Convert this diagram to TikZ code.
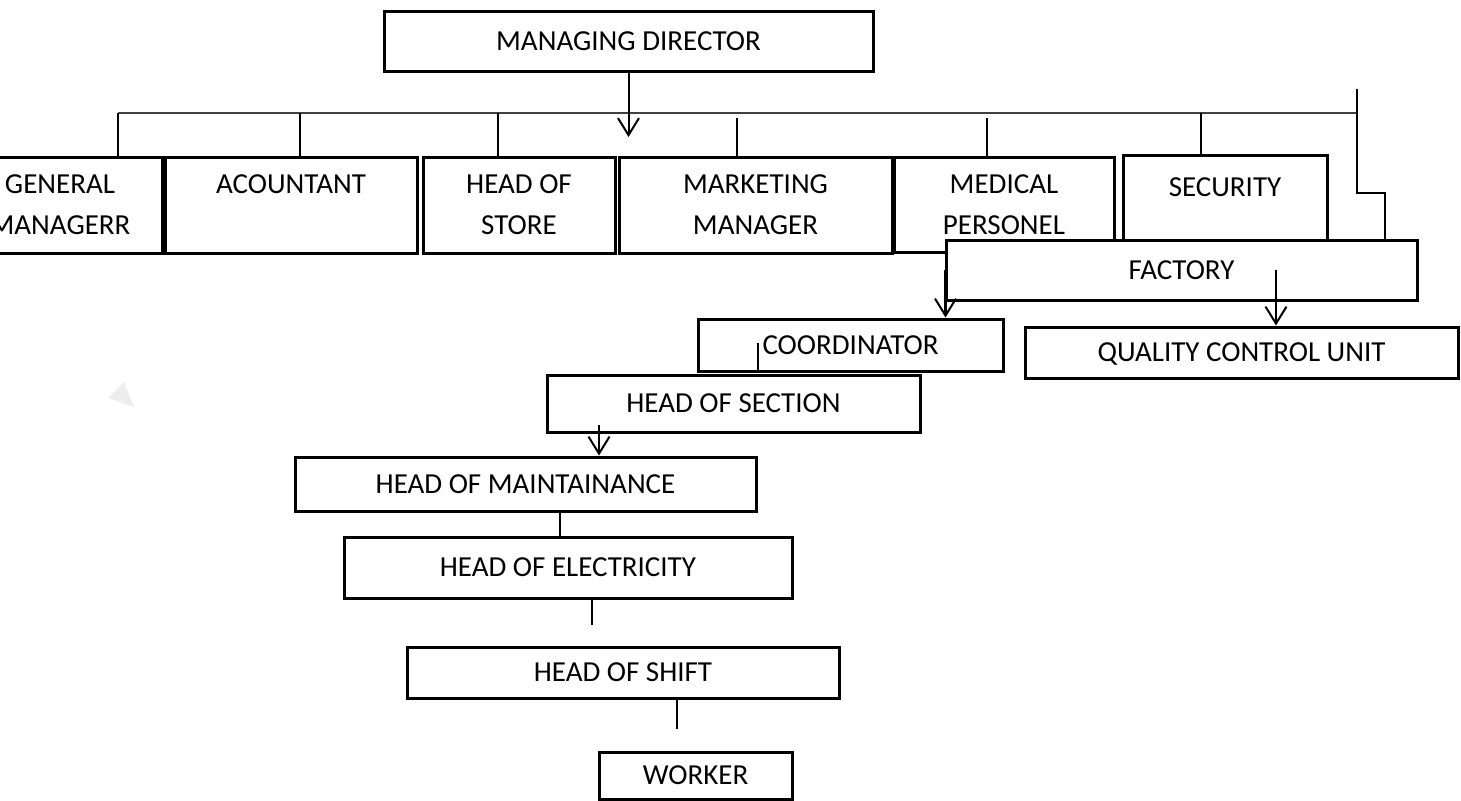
\documentclass[tikz,border=0pt]{standalone}
\usepackage{fontspec}
\setmainfont{Carlito}
\usetikzlibrary{arrows.meta}

\begin{document}
\begin{tikzpicture}[
    x=0.5pt, y=-0.5pt,
    box/.style={draw, line width=1.5pt, fill=white, align=center,
                font=\fontsize{14.5}{20.5}\selectfont, text depth=0pt,
                inner sep=0pt},
    link/.style={line width=1pt},
    bus/.style={line width=0.7pt, black!75},
    arrow/.style={-{Straight Barb[length=8.5pt, width=10.5pt, line width=1pt]},
                  line width=1pt},
]
\useasboundingbox (0,0) rectangle (1461,800);

% faint mark on the left
\fill[black!7] (108,398) -- (124,382) -- (134,407) -- cycle;

% top of the chart
\node[box, minimum width=244.5pt, minimum height=30pt] (md) at (628.5,41)
    {MANAGING DIRECTOR};

% first row
\node[box, minimum width=102pt, minimum height=48pt] (gm) at (60,205)
    {GENERAL\\MANAGERR};
\node[box, minimum width=126pt, minimum height=48pt] (acc) at (291,205)
    {ACOUNTANT\\~};
\node[box, minimum width=96pt, minimum height=48pt] (store) at (519,205)
    {HEAD OF\\STORE};
\node[box, minimum width=136.5pt, minimum height=48pt] (mkt) at (755.5,205)
    {MARKETING\\MANAGER};
\node[box, minimum width=110pt, minimum height=47.5pt] (med) at (1004,204.5)
    {MEDICAL\\PERSONEL};
\node[box, minimum width=102pt, minimum height=52.5pt] (sec) at (1225,207.5)
    {SECURITY\\~};

% factory branch
\node[box, minimum width=235.5pt, minimum height=30pt] (fac) at (1181.5,270)
    {FACTORY};
\node[box, minimum width=216.5pt, minimum height=25.5pt] (qcu) at (1241.5,352.5)
    {QUALITY CONTROL UNIT};
\node[box, minimum width=152.5pt, minimum height=26pt] (coord) at (850.5,345)
    {COORDINATOR};
\node[box, minimum width=186.5pt, minimum height=28.5pt] (hos) at (733.5,403.5)
    {HEAD OF SECTION};
\node[box, minimum width=230.5pt, minimum height=27pt] (hom) at (525.5,484)
    {HEAD OF MAINTAINANCE};
\node[box, minimum width=224pt, minimum height=30.5pt] (hoe) at (568,567.5)
    {HEAD OF ELECTRICITY};
\node[box, minimum width=216pt, minimum height=25.5pt] (hsh) at (623,672.5)
    {HEAD OF SHIFT};
\node[box, minimum width=96.5pt, minimum height=23.5pt] (wrk) at (695.5,775.5)
    {WORKER};

% bus line under the director
\coordinate (b1) at (118,113);
\coordinate (b2) at (300,113);
\coordinate (b3) at (498,113);
\coordinate (b4) at (737,118);
\coordinate (b5) at (987,118);
\coordinate (b6) at (1201,113);
\coordinate (busEnd) at (1357,113);
\draw[bus] (b1) -- (busEnd);

\coordinate (mdTip) at (628.5,137);
\draw[arrow] (md.south) -- (mdTip);

\draw[link] (b1) -- (b1 |- gm.north);
\draw[link] (b2) -- (b2 |- acc.north);
\draw[link] (b3) -- (b3 |- store.north);
\draw[link] (b4) -- (b4 |- mkt.north);
\draw[link] (b5) -- (b5 |- med.north);
\draw[link] (b6) -- (b6 |- sec.north);

% feed into the factory
\coordinate (fTop) at (1357,89);
\coordinate (fBend) at (1357,193);
\draw[link] (fTop) -- (fBend) -| ([xshift=-17pt]fac.north east);

\coordinate (facIn) at (1276,270);
\draw[arrow] (facIn) -- (facIn |- qcu.north);
\draw[arrow, line width=1.8pt] ([xshift=0.5pt]fac.west) -- ([xshift=0.5pt]fac.west |- coord.north);

% down the chain
\coordinate (crdMark) at (758,343);
\draw[link] (crdMark) -- (crdMark |- coord.south);
\coordinate (hosIn) at (599,425);
\draw[arrow] (hosIn) -- (hosIn |- hom.north);
\coordinate (m1) at (560,511);
\draw[link] (m1) -- (m1 |- hoe.north);
\coordinate (e1) at (592,625);
\draw[link] (e1 |- hoe.south) -- (e1);
\coordinate (s1) at (677,729);
\draw[link] (s1 |- hsh.south) -- (s1);

\end{tikzpicture}
\end{document}
